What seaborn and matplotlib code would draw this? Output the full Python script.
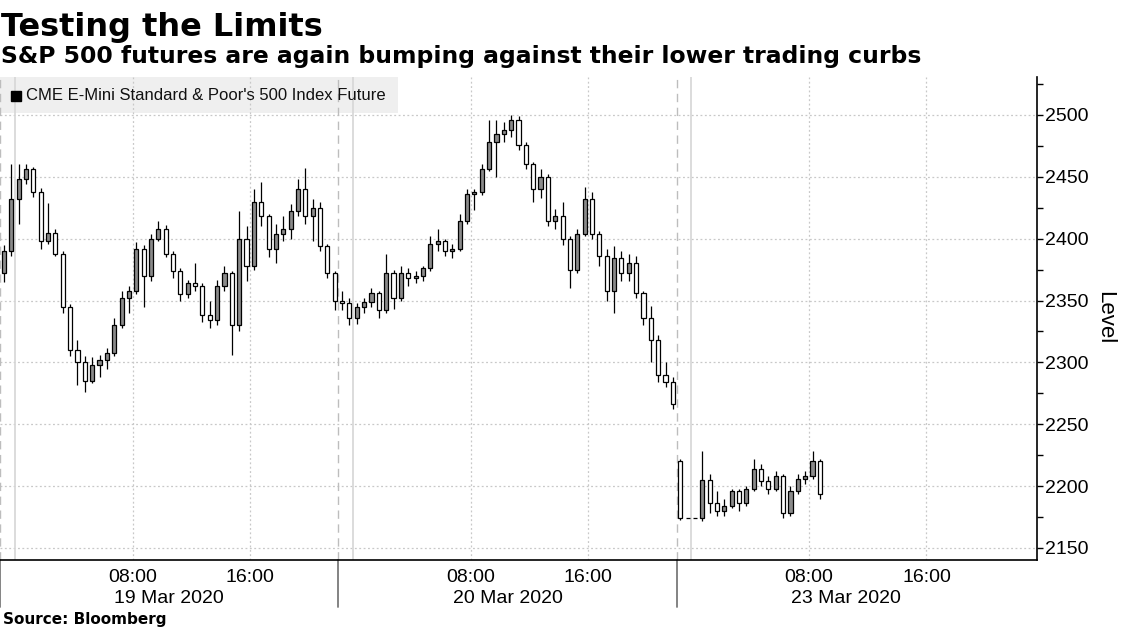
import numpy as np
import pandas as pd
import matplotlib
matplotlib.use('Agg')
import matplotlib.pyplot as plt
import matplotlib.transforms as mtransforms
from matplotlib.patches import Rectangle
import seaborn as sns

# sessions open 23:00 and trade 23 hours, bars are 30 minutes
session_open = ['2020-03-18 23:00', '2020-03-19 23:00', '2020-03-22 23:00']
session_label = ['19 Mar 2020', '20 Mar 2020', '23 Mar 2020']
bars_per_session = [46, 46, 20]

open_ = [2372, 2390, 2432, 2448, 2456, 2438, 2398, 2405, 2388, 2345,
         2310, 2300, 2285, 2298, 2302, 2308, 2330, 2352, 2358, 2392,
         2370, 2400, 2408, 2388, 2374, 2355, 2364, 2362, 2338, 2334,
         2362, 2372, 2330, 2400, 2378, 2430, 2418, 2392, 2404, 2408,
         2422, 2440, 2418, 2425, 2394, 2372,
         2350, 2348, 2336, 2345, 2349, 2356, 2342, 2372, 2352, 2372,
         2368, 2370, 2376, 2396, 2398, 2390, 2392, 2414, 2436, 2438,
         2456, 2478, 2485, 2488, 2496, 2476, 2460, 2440, 2450, 2414,
         2418, 2400, 2375, 2404, 2432, 2404, 2386, 2358, 2384, 2372,
         2380, 2356, 2336, 2318, 2290, 2284,
         2220, 2174, 2174, 2174, 2205, 2186, 2180, 2184, 2196, 2186,
         2198, 2214, 2204, 2198, 2208, 2178, 2196, 2206, 2208, 2220]
high = [2395, 2460, 2460, 2460, 2458, 2441, 2429, 2408, 2390, 2347,
        2318, 2305, 2304, 2306, 2312, 2336, 2358, 2362, 2397, 2395,
        2404, 2414, 2411, 2390, 2376, 2367, 2380, 2364, 2350, 2367,
        2378, 2374, 2422, 2410, 2440, 2446, 2420, 2412, 2418, 2428,
        2448, 2457, 2432, 2430, 2396, 2374,
        2358, 2352, 2348, 2352, 2360, 2358, 2388, 2375, 2378, 2376,
        2374, 2378, 2402, 2408, 2400, 2396, 2420, 2440, 2440, 2460,
        2496, 2496, 2494, 2500, 2499, 2478, 2462, 2456, 2452, 2424,
        2430, 2402, 2408, 2442, 2438, 2406, 2392, 2394, 2390, 2388,
        2386, 2358, 2346, 2322, 2300, 2288,
        2222, 2174, 2174, 2228, 2210, 2196, 2190, 2198, 2198, 2200,
        2222, 2218, 2208, 2212, 2210, 2200, 2210, 2212, 2228, 2222]
low = [2365, 2386, 2412, 2444, 2434, 2392, 2396, 2386, 2340, 2305,
       2282, 2276, 2283, 2288, 2295, 2305, 2328, 2340, 2355, 2345,
       2366, 2398, 2385, 2368, 2350, 2352, 2358, 2333, 2328, 2330,
       2358, 2306, 2325, 2366, 2375, 2410, 2385, 2380, 2398, 2400,
       2418, 2412, 2398, 2390, 2368, 2342,
       2342, 2330, 2331, 2340, 2345, 2336, 2340, 2343, 2350, 2362,
       2364, 2366, 2374, 2390, 2386, 2384, 2390, 2412, 2423, 2435,
       2455, 2450, 2478, 2482, 2472, 2456, 2430, 2433, 2410, 2408,
       2395, 2360, 2372, 2402, 2400, 2378, 2350, 2340, 2366, 2366,
       2352, 2330, 2300, 2284, 2280, 2262,
       2173, 2174, 2174, 2172, 2178, 2176, 2176, 2182, 2180, 2184,
       2196, 2200, 2194, 2196, 2174, 2176, 2194, 2202, 2206, 2190]
close = [2390, 2432, 2448, 2456, 2438, 2398, 2405, 2388, 2345, 2310,
         2300, 2285, 2298, 2302, 2308, 2330, 2352, 2358, 2392, 2370,
         2400, 2408, 2388, 2374, 2355, 2364, 2362, 2338, 2334, 2362,
         2372, 2330, 2400, 2378, 2430, 2418, 2392, 2404, 2408, 2422,
         2440, 2418, 2425, 2394, 2372, 2350,
         2348, 2336, 2345, 2349, 2356, 2342, 2372, 2352, 2372, 2368,
         2370, 2376, 2396, 2398, 2390, 2392, 2414, 2436, 2438, 2456,
         2478, 2485, 2488, 2496, 2476, 2460, 2440, 2450, 2414, 2418,
         2400, 2375, 2404, 2432, 2404, 2386, 2358, 2384, 2372, 2380,
         2356, 2336, 2318, 2290, 2284, 2266,
         2174, 2174, 2174, 2205, 2186, 2180, 2184, 2196, 2186, 2198,
         2214, 2204, 2198, 2208, 2178, 2196, 2206, 2208, 2220, 2194]

y_ticks = [2150, 2200, 2250, 2300, 2350, 2400, 2450, 2500]
hour_ticks = [0, 4, 8, 12, 16, 20]
hour_labels = ['', '', '08:00', '', '16:00', '']

SESSION_HOURS = 23


def session_pos(i, ts):
    # position on a compressed time axis (closed hours removed)
    start = pd.Timestamp(session_open[i])
    return SESSION_HOURS * i + (pd.Timestamp(ts) - start) / pd.Timedelta('1h')


rows = []
for i, n in enumerate(bars_per_session):
    for ts in pd.date_range(session_open[i], periods=n, freq='30min'):
        rows.append({'time': ts, 'pos': session_pos(i, ts) + 0.25})
df = pd.DataFrame(rows)
df['open'] = open_
df['high'] = high
df['low'] = low
df['close'] = close
df['up'] = df['close'] >= df['open']

sns.set_theme(style='white')
plt.rcParams['font.family'] = ['Liberation Sans', 'DejaVu Sans']
plt.rcParams['text.color'] = 'black'
plt.rcParams['xtick.color'] = 'black'
plt.rcParams['ytick.color'] = 'black'
plt.rcParams['xtick.labelcolor'] = 'black'
plt.rcParams['ytick.labelcolor'] = 'black'

W, H = 1122, 631
fig = plt.figure(figsize=(W / 100, H / 100), dpi=100)
ax = fig.add_axes([0.3 / W, 71 / H, 1036.4 / W, 483 / H])
ax.set_xlim(0, 70.5)
ax.set_ylim(2140.3, 2530.7)

# grid
grid_c = '#c8c8c8'
for v in y_ticks:
    ax.axhline(v, color=grid_c, lw=0.9, ls=(0, (1.5, 2)), zorder=1)
for i, lab in enumerate(session_label):
    day = pd.Timestamp(session_open[i]) + pd.Timedelta('1h')
    ax.axvline(SESSION_HOURS * i, color='#bdbdbd', lw=1.0, ls=(0, (6, 4)), zorder=1)
    ax.axvline(session_pos(i, day), color='#d6d6d6', lw=1.2, zorder=1)
    for h in (8, 16):
        ax.axvline(session_pos(i, day + pd.Timedelta(hours=h)), color=grid_c,
                   lw=0.9, ls=(0, (1.5, 2)), zorder=1)

# legend band
ax.add_patch(Rectangle((0, 0.9255), 398 / 1036.4, 0.0745, transform=ax.transAxes,
                       facecolor='#efefef', edgecolor='none', zorder=0))
ax.plot([16 / 1036.4], [(560 - 96) / 483], marker='s', ms=7.5, color='black',
        transform=ax.transAxes, zorder=5)
ax.text(26 / 1036.4, (560 - 96) / 483, "CME E-Mini Standard & Poor's 500 Index Future",
        transform=ax.transAxes, fontsize=12, va='center', ha='left', color='#111111', zorder=5)

# candles
ax.vlines(df['pos'], df['low'], df['high'], color='black', lw=0.9, zorder=3)
ax.bar(df['pos'], df['close'] - df['open'], bottom=df['open'], width=0.28,
       color=np.where(df['up'], '#8a8a8a', 'white'), edgecolor='black', lw=0.9, zorder=4)

# axes styling
for s in ['left', 'top']:
    ax.spines[s].set_visible(False)
ax.spines['right'].set_color('black')
ax.spines['bottom'].set_color('black')
ax.spines['right'].set_linewidth(1.2)
ax.spines['bottom'].set_linewidth(1.2)

ax.yaxis.tick_right()
ax.set_yticks(y_ticks)
ax.set_yticks([v + 25 for v in y_ticks[:-1]] + [2525], minor=True)
ax.tick_params(axis='y', which='both', direction='out', length=4, width=1,
               color='black', labelsize=14, pad=2, left=False, right=True)

xt, xl = [], []
for i in range(len(session_label)):
    day = pd.Timestamp(session_open[i]) + pd.Timedelta('1h')
    for h, lab in zip(hour_ticks, hour_labels):
        xt.append(session_pos(i, day + pd.Timedelta(hours=h)))
        xl.append(lab)
ax.set_xticks(xt)
ax.set_xticklabels(xl)
ax.tick_params(axis='x', direction='out', length=5, width=1, color='black',
               labelsize=14, pad=1.5)
ax.set_xlabel('')
ax.set_ylabel('')

# day separators and date labels under the axis
trans = mtransforms.blended_transform_factory(ax.transData, ax.transAxes)
for i, lab in enumerate(session_label):
    ax.plot([SESSION_HOURS * i] * 2, [0, -0.097], color='#7a7a7a', lw=1.3,
            transform=trans, clip_on=False)
    ax.text(SESSION_HOURS * (i + 0.5), -0.0787, lab, transform=trans,
            ha='center', va='center', fontsize=14)

fig.text(1105 / W, 1 - 318 / H, 'Level', rotation=270, ha='center', va='center', fontsize=16)
fig.text(1 / W, 1 - 36 / H, 'Testing the Limits', fontsize=23, weight='bold',
         family='DejaVu Sans', va='baseline')
fig.text(1 / W, 1 - 63 / H, 'S&P 500 futures are again bumping against their lower trading curbs',
         fontsize=16.9, weight='bold', family='DejaVu Sans', va='baseline')
fig.text(3 / W, 1 - 624 / H, 'Source: Bloomberg', fontsize=11, weight='bold',
         family='DejaVu Sans', va='baseline')

fig.savefig('out.png', dpi=100, facecolor='white')
